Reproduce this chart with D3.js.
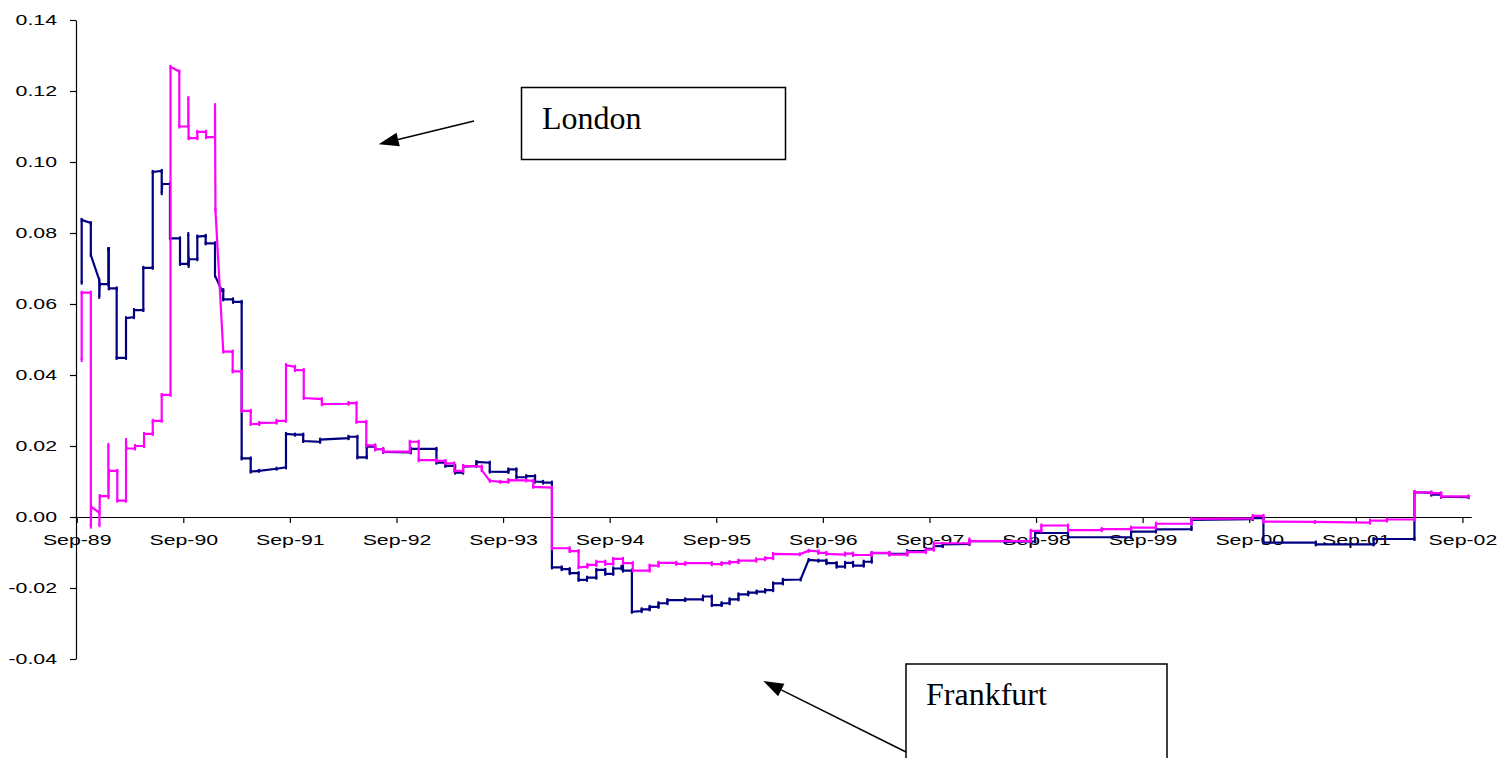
<!DOCTYPE html>
<html>
<head>
<meta charset="utf-8">
<script src="https://cdn.jsdelivr.net/npm/d3@7"></script>
<style>
  html, body { margin: 0; padding: 0; background: #fff; }
  svg { display: block; }
</style>
</head>
<body>
<svg id="chart" width="1507" height="758"></svg>
<script>
// ---- axis ticks (months counted from September 1989) ----
const xTickMonths = [0, 12, 24, 36, 48, 60, 72, 84, 96, 108, 120, 132, 144, 156];
const xTickLabels = ["Sep-89", "Sep-90", "Sep-91", "Sep-92", "Sep-93", "Sep-94", "Sep-95",
                     "Sep-96", "Sep-97", "Sep-98", "Sep-99", "Sep-00", "Sep-01", "Sep-02"];
const yTicks = [-0.04, -0.02, 0.00, 0.02, 0.04, 0.06, 0.08, 0.10, 0.12, 0.14];

// ---- navy series: time (months since Sep-89) and value ----
const navyMonths = [
  0.56, 0.56, 1.59, 1.59, 2.54, 2.54, 2.6, 3.56, 3.56, 3.62, 3.62, 4.5, 4.5, 5.55, 5.55, 6.45, 6.45,
  7.5, 7.5, 8.56, 8.56, 9.57, 9.57, 9.62, 10.5, 10.5, 11.63, 11.63, 12.56, 12.56, 12.6, 12.64,
  13.58, 13.58, 14.52, 14.52, 15.57, 15.57, 16.32, 16.5, 16.5, 17.6, 17.6, 18.57, 18.57, 19.59, 19.59,
  20.5, 22.5, 23.56, 23.56, 24.57, 25.5, 25.5, 27.4, 27.4, 30.6, 30.6, 31.6, 31.6, 32.65, 32.65,
  33.6, 33.6, 34.5, 34.5, 37.6, 37.6, 40.5, 40.5, 41.5, 41.5, 42.6, 42.6, 43.5, 43.5, 45.0, 45.0,
  46.5, 46.5, 48.6, 48.6, 49.5, 49.5, 50.6, 50.6, 51.6, 51.6, 52.5, 52.5, 53.5, 53.5,
  54.6, 54.6, 55.5, 55.5, 56.5, 56.5, 57.45, 57.45, 58.5, 58.5, 59.5, 59.5, 60.4, 60.4, 61.35, 61.35,
  61.5, 61.5, 62.5, 62.5, 63.6, 63.6, 64.5, 64.5, 65.5, 65.5, 66.5, 66.5, 68.5, 68.5, 70.5, 70.5,
  71.5, 71.5, 72.6, 72.6, 73.5, 73.5, 74.5, 74.5, 75.6, 75.6, 76.55, 76.55, 77.5, 77.5, 78.4, 78.4,
  79.5, 79.5, 81.5, 82.4, 83.5, 84.4, 84.4, 85.55, 85.55, 86.5, 86.5, 87.4, 87.4, 88.6, 88.6,
  89.5, 89.5, 91.5, 91.5, 93.5, 93.5, 95.6, 95.6, 96.5, 96.5, 97.5, 97.5, 100.5, 100.5, 104.5, 104.5,
  107.9, 107.9, 111.6, 111.6, 118.7, 118.7, 121.5, 121.5, 125.5, 125.5, 132.4, 132.4, 133.6, 133.6,
  139.5, 139.5, 146, 146, 150.6, 150.6, 152.5, 152.5, 153.6, 153.6, 156.7
];
const navyValues = [
  0.066, 0.0837, 0.0828, 0.0738, 0.0668, 0.062, 0.0656, 0.0656, 0.0755, 0.0755, 0.0644, 0.0644, 0.0448, 0.0448, 0.056, 0.0563, 0.0583,
  0.0583, 0.0702, 0.0702, 0.0972, 0.0975, 0.0912, 0.0938, 0.0938, 0.0785, 0.0785, 0.0713, 0.0713, 0.0797, 0.0707, 0.0726,
  0.0726, 0.079, 0.0792, 0.0771, 0.0771, 0.068, 0.0639, 0.0639, 0.0613, 0.0613, 0.0606, 0.0606, 0.0165, 0.0165, 0.0128,
  0.013, 0.0136, 0.014, 0.0234, 0.0232, 0.0232, 0.0214, 0.0212, 0.0218, 0.0222, 0.0226, 0.0226, 0.0168, 0.0168, 0.0198,
  0.0198, 0.0191, 0.0191, 0.0183, 0.0182, 0.0192, 0.0192, 0.0153, 0.0153, 0.0144, 0.0144, 0.0125, 0.0125, 0.0142, 0.0144, 0.0155,
  0.0153, 0.0128, 0.0127, 0.0134, 0.0134, 0.0112, 0.0112, 0.0115, 0.0115, 0.0100, 0.0099, 0.0097, 0.0097, -0.0142,
  -0.0142, -0.0147, -0.0147, -0.0158, -0.0158, -0.0177, -0.0177, -0.0171, -0.0171, -0.0149, -0.0149, -0.0160, -0.0160, -0.0145, -0.0145, -0.0140,
  -0.0140, -0.0151, -0.0151, -0.0267, -0.0265, -0.0260, -0.0260, -0.0253, -0.0253, -0.0243, -0.0243, -0.0234, -0.0234, -0.0232, -0.0232, -0.0224,
  -0.0224, -0.0248, -0.0248, -0.0243, -0.0243, -0.0232, -0.0232, -0.0218, -0.0218, -0.0213, -0.0213, -0.0210, -0.0210, -0.0206, -0.0206, -0.0187,
  -0.0187, -0.0177, -0.0176, -0.0121, -0.0123, -0.0123, -0.0130, -0.0130, -0.0140, -0.0140, -0.0129, -0.0129, -0.0137, -0.0137, -0.0126,
  -0.0126, -0.0102, -0.0102, -0.0104, -0.0104, -0.0096, -0.0096, -0.0090, -0.0090, -0.0082, -0.0082, -0.0077, -0.0076, -0.0068, -0.0068, -0.0070,
  -0.0069, -0.0045, -0.0045, -0.0057, -0.0057, -0.0041, -0.0041, -0.0035, -0.0034, -0.0008, -0.0006, -0.0003, -0.0003, -0.0072,
  -0.0072, -0.0077, -0.0077, -0.0062, -0.0062, 0.0070, 0.0068, 0.0063, 0.0063, 0.0057, 0.0056
];

// ---- magenta series: time (months since Sep-89) and value ----
const magentaMonths = [
  0.56, 0.56, 1.59, 1.59, 1.62, 2.56, 2.56, 2.6, 3.56, 3.56, 3.58, 3.62, 4.57, 4.57, 5.55, 5.55, 5.58,
  6.56, 6.56, 7.58, 7.58, 8.56, 8.56, 9.57, 9.57, 10.56, 10.56, 11.55, 11.55, 12.56, 12.56, 12.6,
  13.58, 13.58, 14.56, 14.56, 15.57, 15.57, 15.62, 16.5, 17.56, 17.56, 18.57, 18.57, 19.59, 19.59,
  20.55, 20.55, 22.5, 22.5, 23.56, 23.56, 24.57, 24.57, 25.56, 25.56, 27.6, 27.6, 30.6, 30.6, 31.5, 31.5,
  32.6, 32.6, 33.6, 33.6, 34.5, 34.5, 37.5, 37.5, 38.5, 38.5, 40.5, 40.5, 41.5, 41.5, 42.5, 42.5,
  43.5, 43.5, 45.6, 45.6, 46.5, 47.7, 48.6, 48.6, 50.6, 51.4, 51.4, 53.5, 53.5,
  55.5, 55.5, 56.5, 56.5, 57.5, 57.5, 58.5, 58.5, 59.5, 59.5, 60.4, 60.4, 61.5, 61.5, 62.6, 62.6,
  64.5, 64.5, 65.5, 65.5, 67.5, 67.5, 68.5, 68.5, 71.5, 71.5, 72.6, 72.6, 73.5, 73.5, 74.5, 74.5,
  76.5, 76.5, 77.5, 77.5, 78.4, 78.4, 81.4, 82.4, 83.5, 83.5, 84.4, 84.4, 86.5, 86.5, 87.4, 87.4,
  89.5, 89.5, 91.5, 91.5, 93.5, 93.5, 95.6, 95.6, 96.5, 96.5, 100.5, 100.5, 100.6, 107.4, 107.4,
  108.6, 108.6, 111.6, 111.6, 115.4, 115.4, 118.7, 118.7, 121.5, 121.5, 125.5, 125.5, 132.4, 132.4,
  133.6, 133.6, 139.4, 145.6, 145.6, 147.5, 147.5, 150.6, 150.6, 152.5, 152.5, 153.6, 153.6, 156.7
];
const magentaValues = [
  0.0442, 0.0632, 0.0632, -0.0027, 0.0029, 0.0012, -0.0023, 0.0059, 0.0059, 0.0203, 0.0056, 0.0130, 0.0130, 0.0046, 0.0046, 0.0217, 0.0193,
  0.0193, 0.0200, 0.0200, 0.0234, 0.0234, 0.0271, 0.0271, 0.0344, 0.0344, 0.1268, 0.1255, 0.1100, 0.1100, 0.1180, 0.1067,
  0.1067, 0.1085, 0.1085, 0.1070, 0.1070, 0.1160, 0.0865, 0.0466, 0.0466, 0.0410, 0.0410, 0.0299, 0.0299, 0.0262,
  0.0262, 0.0265, 0.0266, 0.0271, 0.0271, 0.0428, 0.0423, 0.0414, 0.0414, 0.0335, 0.0332, 0.0318, 0.0319, 0.0321, 0.0321, 0.0268,
  0.0268, 0.0202, 0.0202, 0.0191, 0.0191, 0.0184, 0.0184, 0.0212, 0.0212, 0.0160, 0.0160, 0.0158, 0.0158, 0.0151, 0.0151, 0.0130,
  0.0130, 0.0144, 0.0142, 0.0132, 0.0102, 0.0099, 0.0099, 0.0104, 0.0103, 0.0102, 0.0085, 0.0083, -0.0088,
  -0.0088, -0.0096, -0.0096, -0.0142, -0.0140, -0.0135, -0.0135, -0.0126, -0.0126, -0.0132, -0.0132, -0.0118, -0.0118, -0.0130, -0.0130, -0.0151,
  -0.0151, -0.0137, -0.0137, -0.0129, -0.0129, -0.0132, -0.0132, -0.0130, -0.0130, -0.0133, -0.0133, -0.0130, -0.0130, -0.0127, -0.0127, -0.0123,
  -0.0123, -0.0119, -0.0119, -0.0116, -0.0116, -0.0104, -0.0105, -0.0095, -0.0097, -0.0101, -0.0101, -0.0104, -0.0106, -0.0103, -0.0103, -0.0107,
  -0.0107, -0.0101, -0.0101, -0.0106, -0.0106, -0.0099, -0.0099, -0.0092, -0.0092, -0.0074, -0.0074, -0.0063, -0.0068, -0.0068, -0.0039,
  -0.0039, -0.0024, -0.0024, -0.0037, -0.0037, -0.0034, -0.0034, -0.0030, -0.0030, -0.0019, -0.0019, -0.0005, -0.0004, 0.0003,
  0.0003, -0.0013, -0.0014, -0.0016, -0.0010, -0.0010, -0.0007, -0.0007, 0.0070, 0.0069, 0.0067, 0.0067, 0.0058, 0.0058
];

// ---- callout labels ----
const calloutLabels = ["London", "Frankfurt"];

const svg = d3.select("#chart");
const labelFont = "'Liberation Sans', Arial, sans-serif";
const stretch = 1.42;   // axis lettering is drawn wide

const x = d3.scaleLinear().domain([0, 157]).range([76.7, 1471.3]);
const y = d3.scaleLinear().domain([-0.04, 0.14]).range([659, 20]);

// y axis
const yAxis = d3.axisLeft(y)
  .tickValues(yTicks)
  .tickFormat(d => d.toFixed(2).replace("-0.00", "0.00"))
  .tickSize(6)
  .tickSizeOuter(0);
const gy = svg.append("g").attr("transform", "translate(76,0)").call(yAxis);
gy.selectAll("text")
  .attr("x", -19 / stretch)
  .attr("transform", `scale(${stretch},1)`)
  .style("font-family", labelFont)
  .style("font-size", "15px")
  .attr("fill", "#000");

// x axis through zero
const xAxis = d3.axisBottom(x)
  .tickValues(xTickMonths)
  .tickFormat((d, i) => xTickLabels[i])
  .tickSize(6)
  .tickPadding(11)
  .tickSizeOuter(0);
const gx = svg.append("g").attr("transform", `translate(0,${Math.round(y(0))})`).call(xAxis);
gx.selectAll("text")
  .attr("x", 0)
  .attr("transform", `scale(${stretch},1)`)
  .style("font-family", labelFont)
  .style("font-size", "15px")
  .attr("fill", "#000");
svg.selectAll(".domain, .tick line").attr("stroke", "#000").attr("stroke-width", 1.2);

// series lines with small point markers
const line = d3.line().x(d => x(d[0])).y(d => y(d[1]));
function drawSeries(months, values, color) {
  const pts = months.map((m, i) => [m, values[i]]);
  svg.append("path")
    .datum(pts)
    .attr("d", line)
    .attr("fill", "none")
    .attr("stroke", color)
    .attr("stroke-width", 2.2)
    .attr("stroke-linejoin", "miter");
  svg.append("g").selectAll("line")
    .data(pts)
    .join("line")
    .attr("x1", d => x(d[0])).attr("x2", d => x(d[0]))
    .attr("y1", d => y(d[1]) - 2).attr("y2", d => y(d[1]) + 2)
    .attr("stroke", color)
    .attr("stroke-width", 2);
}
drawSeries(navyMonths, navyValues, "#000080");
drawSeries(magentaMonths, magentaValues, "#FF00FF");

// callouts: framed label with an arrow
function arrow(x1, y1, x2, y2) {
  const dx = x2 - x1, dy = y2 - y1, len = Math.hypot(dx, dy);
  const ux = dx / len, uy = dy / len;
  const headLen = 20, headHalf = 7;
  const bx = x2 - ux * headLen, by = y2 - uy * headLen;
  svg.append("line")
    .attr("x1", x1).attr("y1", y1).attr("x2", bx).attr("y2", by)
    .attr("stroke", "#000").attr("stroke-width", 1.5);
  svg.append("path")
    .attr("d", `M${x2},${y2}L${bx - uy * headHalf},${by + ux * headHalf}L${bx + uy * headHalf},${by - ux * headHalf}Z`)
    .attr("fill", "#000");
}
function callout(bx, by, bw, bh, text, tx, ty) {
  svg.append("rect")
    .attr("x", bx).attr("y", by).attr("width", bw).attr("height", bh)
    .attr("fill", "#fff").attr("stroke", "#000").attr("stroke-width", 1.5);
  svg.append("text")
    .attr("x", tx).attr("y", ty)
    .style("font-family", "'Liberation Serif', 'Times New Roman', serif")
    .style("font-size", "32px")
    .attr("fill", "#000")
    .text(text);
}
callout(521.5, 87.5, 264, 72, calloutLabels[0], 542, 129);
arrow(474, 121, x(34), y(0.105));
callout(906, 664, 261, 110, calloutLabels[1], 926, 705);
arrow(906, 752, x(77.3), y(-0.0462));
</script>
</body>
</html>
